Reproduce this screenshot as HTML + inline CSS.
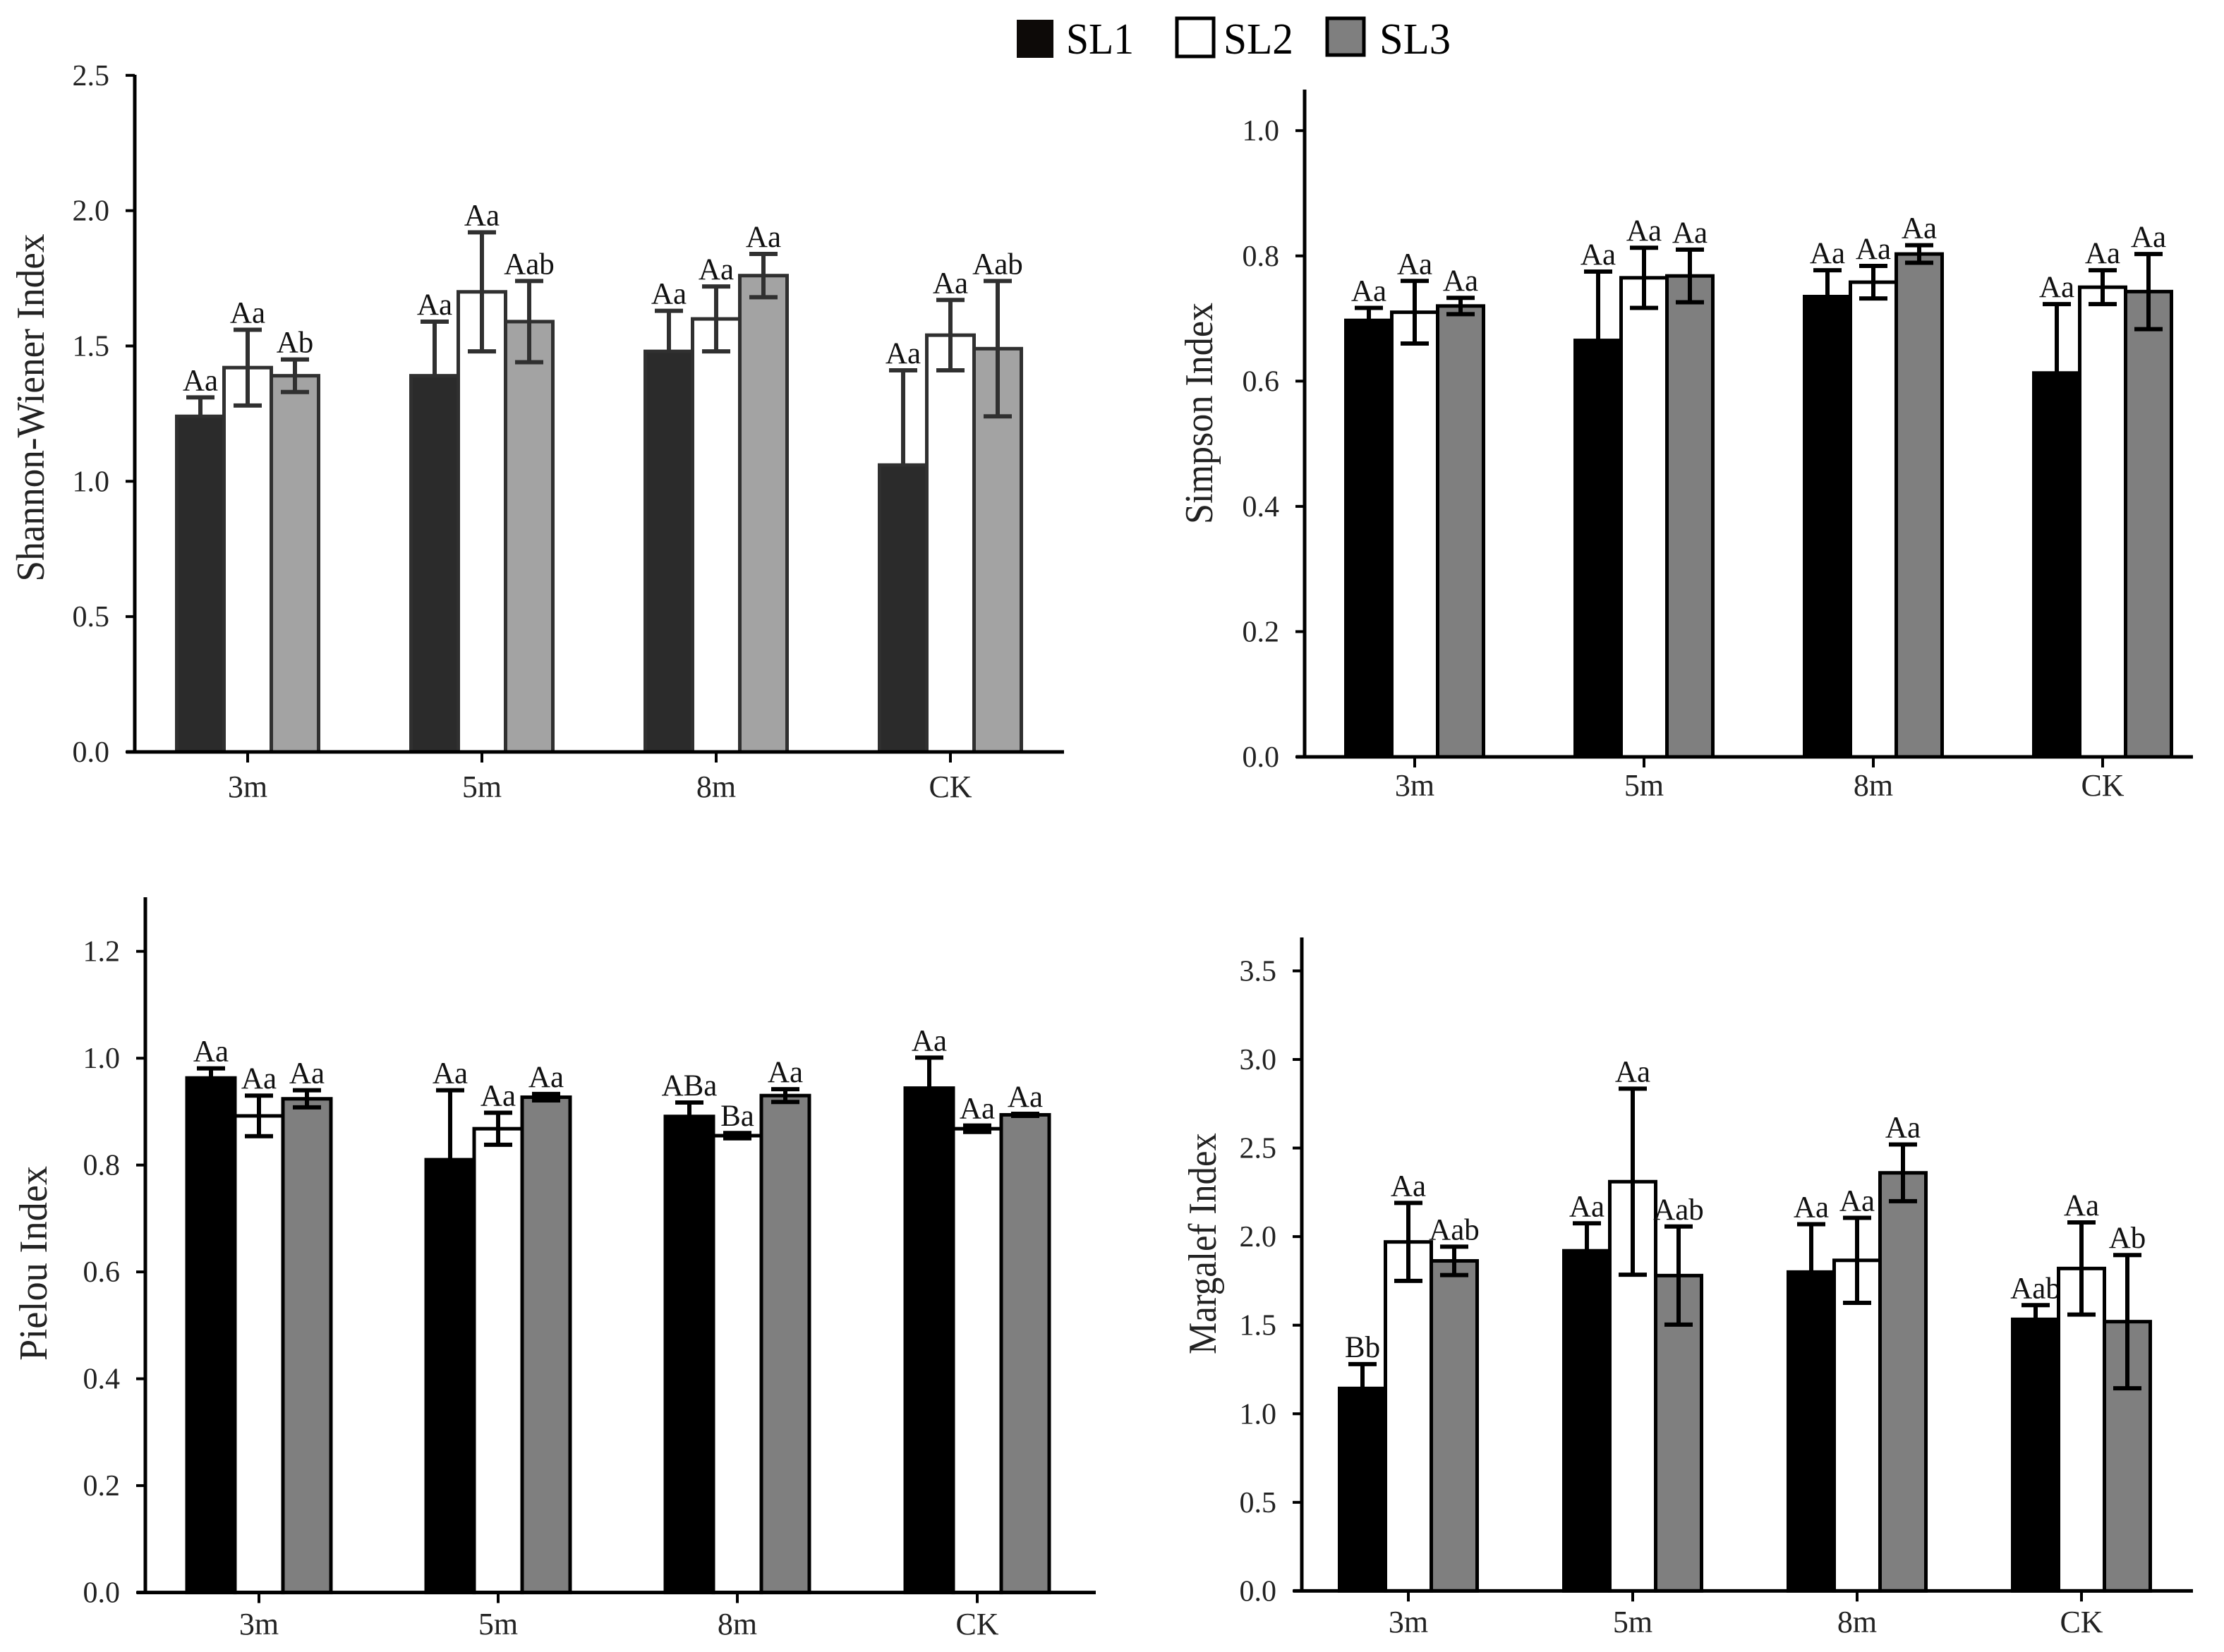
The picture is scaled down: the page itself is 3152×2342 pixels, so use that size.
<!DOCTYPE html>
<html><head><meta charset="utf-8"><style>
html,body{margin:0;padding:0;background:#fff;}
svg{display:block;font-family:"Liberation Serif",serif;}
</style></head><body>
<svg id="fig" width="3152" height="2342" viewBox="0 0 3152 2342" xmlns="http://www.w3.org/2000/svg">
<rect x="0" y="0" width="3152" height="2342" fill="#fff"/>
<g>
  <g>
    <rect x="1441" y="28" width="52" height="54" fill="#0d0a08"/>
    <text x="1511" y="76" font-size="62" textLength="96" lengthAdjust="spacingAndGlyphs">SL1</text>
  </g>
  <g>
    <rect x="1668" y="26" width="52" height="54" fill="#fff" stroke="#000" stroke-width="5"/>
    <text x="1734" y="76" font-size="62" textLength="99" lengthAdjust="spacingAndGlyphs">SL2</text>
  </g>
  <g>
    <rect x="1881" y="26" width="52" height="52" fill="#7f7f7f" stroke="#000" stroke-width="5"/>
    <text x="1955" y="76" font-size="62" textLength="101" lengthAdjust="spacingAndGlyphs">SL3</text>
  </g>
</g>
</svg>
<script>
const categories = ["3m","5m","8m","CK"];
const seriesNames = ["SL1","SL2","SL3"];

const shannonSL1 = [1.24,1.39,1.48,1.06];
const shannonSL2 = [1.42,1.70,1.60,1.54];
const shannonSL3 = [1.39,1.59,1.76,1.49];
const shannonErrSL1 = [0.07,0.20,0.15,0.35];
const shannonErrSL2 = [0.14,0.22,0.12,0.13];
const shannonErrSL3 = [0.06,0.15,0.08,0.25];
const shannonLetters = [["Aa","Aa","Ab"],["Aa","Aa","Aab"],["Aa","Aa","Aa"],["Aa","Aa","Aab"]];
const shannonTicks = ["0.0","0.5","1.0","1.5","2.0","2.5"];

const simpsonSL1 = [0.697,0.665,0.735,0.613];
const simpsonSL2 = [0.710,0.765,0.758,0.750];
const simpsonSL3 = [0.720,0.768,0.803,0.743];
const simpsonErrSL1 = [0.02,0.11,0.042,0.11];
const simpsonErrSL2 = [0.05,0.048,0.026,0.027];
const simpsonErrSL3 = [0.013,0.042,0.014,0.06];
const simpsonLetters = [["Aa","Aa","Aa"],["Aa","Aa","Aa"],["Aa","Aa","Aa"],["Aa","Aa","Aa"]];
const simpsonTicks = ["0.0","0.2","0.4","0.6","0.8","1.0"];

const pielouSL1 = [0.963,0.810,0.891,0.944];
const pielouSL2 = [0.892,0.868,0.855,0.868];
const pielouSL3 = [0.924,0.927,0.930,0.894];
const pielouErrSL1 = [0.018,0.13,0.026,0.057];
const pielouErrSL2 = [0.038,0.03,0.005,0.006];
const pielouErrSL3 = [0.016,0.006,0.012,0.002];
const pielouLetters = [["Aa","Aa","Aa"],["Aa","Aa","Aa"],["ABa","Ba","Aa"],["Aa","Aa","Aa"]];
const pielouTicks = ["0.0","0.2","0.4","0.6","0.8","1.0","1.2"];

const margalefSL1 = [1.143,1.92,1.80,1.533];
const margalefSL2 = [1.97,2.31,1.866,1.82];
const margalefSL3 = [1.863,1.78,2.36,1.52];
const margalefErrSL1 = [0.137,0.155,0.27,0.08];
const margalefErrSL2 = [0.22,0.525,0.24,0.26];
const margalefErrSL3 = [0.08,0.277,0.16,0.376];
const margalefLetters = [["Bb","Aa","Aab"],["Aa","Aa","Aab"],["Aa","Aa","Aa"],["Aab","Aa","Ab"]];
const margalefTicks = ["0.0","0.5","1.0","1.5","2.0","2.5","3.0","3.5"];

const NS = "http://www.w3.org/2000/svg";
const svg = document.getElementById("fig");
function mk(tag, attrs, parent){
  const e = document.createElementNS(NS, tag);
  for (const k in attrs) e.setAttribute(k, attrs[k]);
  parent.appendChild(e);
  return e;
}

const panels = [
  {key:"shannon", title:"Shannon-Wiener Index", titleLen:493, titleX:62, titleY:578,
   ax:191, x1:1508, y0:1066, yTop:106, vmax:2.5, top:106.8, cats:[351,683,1015,1347], bw:67,
   cols:["#2b2b2b","#ffffff","#a3a3a3"], stroke:"#303030", xlabY:1130,
   s:[shannonSL1,shannonSL2,shannonSL3], e:[shannonErrSL1,shannonErrSL2,shannonErrSL3], L:shannonLetters, ticks:shannonTicks},
  {key:"simpson", title:"Simpson Index", titleLen:314, titleX:1718, titleY:586,
   ax:1849, x1:3108, y0:1073, yTop:127, vmax:1.0, top:185.2, cats:[2005,2330,2655,2980], bw:65,
   cols:["#000000","#ffffff","#7f7f7f"], stroke:"#000", xlabY:1128,
   s:[simpsonSL1,simpsonSL2,simpsonSL3], e:[simpsonErrSL1,simpsonErrSL2,simpsonErrSL3], L:simpsonLetters, ticks:simpsonTicks},
  {key:"pielou", title:"Pielou Index", titleLen:276, titleX:66, titleY:1791,
   ax:206, x1:1553, y0:2257.6, yTop:1272, vmax:1.2, top:1348.7, cats:[367,706,1045,1385], bw:68,
   cols:["#000000","#ffffff","#7f7f7f"], stroke:"#000", xlabY:2317,
   s:[pielouSL1,pielouSL2,pielouSL3], e:[pielouErrSL1,pielouErrSL2,pielouErrSL3], L:pielouLetters, ticks:pielouTicks},
  {key:"margalef", title:"Margalef Index", titleLen:314, titleX:1723, titleY:1763,
   ax:1845, x1:3108, y0:2255.4, yTop:1329, vmax:3.5, top:1376.4, cats:[1996,2314,2632,2950], bw:65,
   cols:["#000000","#ffffff","#7f7f7f"], stroke:"#000", xlabY:2314,
   s:[margalefSL1,margalefSL2,margalefSL3], e:[margalefErrSL1,margalefErrSL2,margalefErrSL3], L:margalefLetters, ticks:margalefTicks}
];

panels.forEach(p => {
  const g = mk("g", {}, svg);
  
  
  const y = v => p.y0 - (v / p.vmax) * (p.y0 - p.top);
  const sc = p.stroke;
  for (let c = 0; c < categories.length; c++) {
    for (let s = 0; s < 3; s++) {
      const v = p.s[s][c], er = p.e[s][c];
      const bx = p.cats[c] + (s - 1.5) * p.bw;
      const r = mk("rect", {x:bx, y:y(v), width:p.bw, height:p.y0 - y(v), fill:p.cols[s], stroke:sc, "stroke-width":5}, g);
      
      
      const cx = bx + p.bw / 2;
      const eg = mk("g", {stroke:sc, "stroke-width":6}, g);
      
      
      const lowV = s === 0 ? v : v - er;
      mk("line", {x1:cx, x2:cx, y1:y(v + er), y2:y(lowV)}, eg);
      mk("line", {x1:cx - 20, x2:cx + 20, y1:y(v + er), y2:y(v + er)}, eg);
      if (s !== 0) mk("line", {x1:cx - 20, x2:cx + 20, y1:y(v - er), y2:y(v - er)}, eg);
      const t = mk("text", {x:cx, y:y(v + er) - 10, "font-size":43, "text-anchor":"middle", fill:"#111"}, g);
      t.textContent = p.L[c][s];
      
      
    }
  }
  const ya = mk("line", {x1:p.ax, x2:p.ax, y1:p.yTop, y2:p.y0 + 2, stroke:"#000", "stroke-width":5}, g);
  
  
  const xa = mk("line", {x1:p.ax - 12, x2:p.x1, y1:p.y0, y2:p.y0, stroke:"#000", "stroke-width":5}, g);
  
  
  p.ticks.forEach(tl => {
    const ty = y(parseFloat(tl));
    mk("line", {x1:p.ax - 13, x2:p.ax, y1:ty, y2:ty, stroke:"#000", "stroke-width":4}, g);
    const t = mk("text", {x:p.ax - 36, y:ty + 14, "font-size":42, "text-anchor":"end", fill:"#222"}, g);
    t.textContent = tl;
    
    
  });
  categories.forEach((cat, i) => {
    const cx = p.cats[i];
    mk("line", {x1:cx, x2:cx, y1:p.y0, y2:p.y0 + 15, stroke:"#000", "stroke-width":4}, g);
    const t = mk("text", {x:cx, y:p.xlabY, "font-size":44, "text-anchor":"middle", fill:"#222"}, g);
    t.textContent = cat;
    
    
  });
  const tt = mk("text", {x:0, y:0, "font-size":56, "text-anchor":"middle", fill:"#222",
    textLength:p.titleLen, lengthAdjust:"spacingAndGlyphs",
    transform:"translate(" + p.titleX + "," + p.titleY + ") rotate(-90)"}, g);
  tt.textContent = p.title;
  
  
});
</script>
</body></html>
